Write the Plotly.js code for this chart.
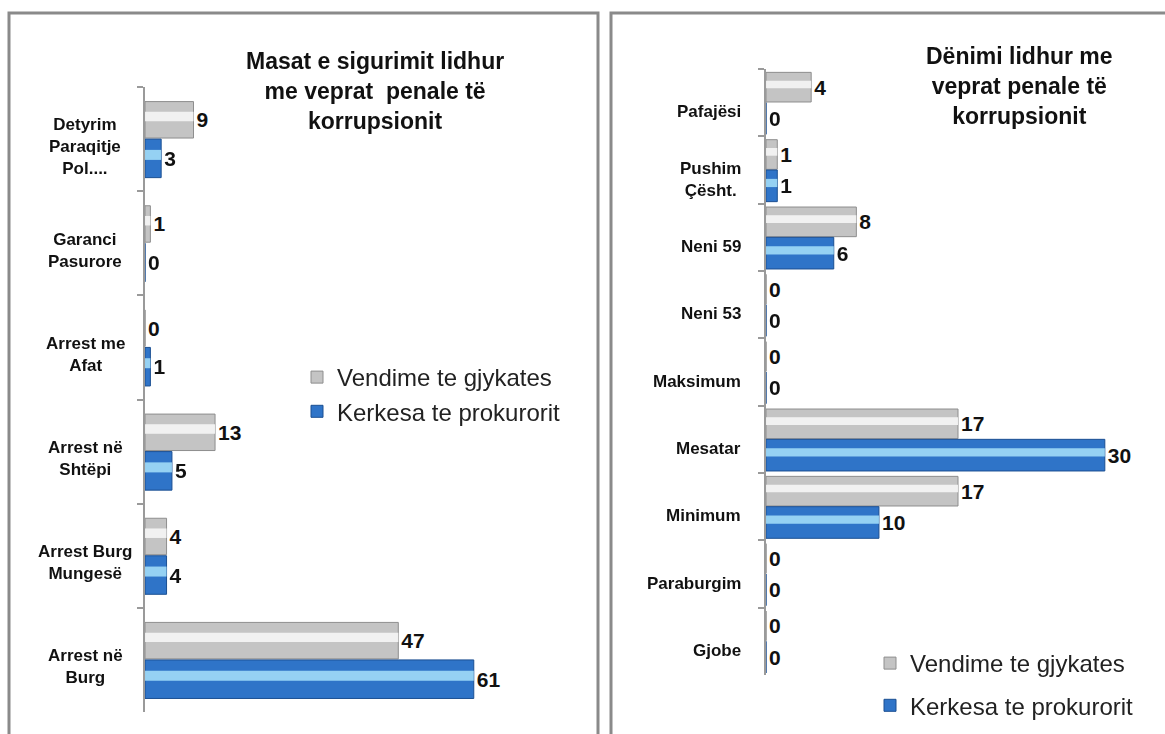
<!DOCTYPE html>
<html><head><meta charset="utf-8">
<script src="https://cdn.plot.ly/plotly-3.0.1.min.js"></script>
<style>html,body{margin:0;padding:0;background:#fff}#c{width:1165px;height:734px}</style>
</head><body><div id="c"></div>
<script>
// ---- data ----
const catsL = ['Detyrim<br>Paraqitje<br>Pol....','Garanci<br>Pasurore','Arrest me<br>Afat','Arrest në<br>Shtëpi','Arrest Burg<br>Mungesë','Arrest në<br>Burg'];
const courtL = [9,1,0,13,4,47];
const prosL  = [3,0,1,5,4,61];
const catsR = ['Pafajësi','Pushim<br>Çësht.','Neni 59','Neni 53','Maksimum','Mesatar','Minimum','Paraburgim','Gjobe'];
const courtR = [4,1,8,0,0,17,17,0,0];
const prosR  = [0,1,6,0,0,30,10,0,0];
const seriesNames = ['Vendime te gjykates','Kerkesa te prokurorit'];
const titleL = 'Masat e sigurimit lidhur<br>me veprat  penale të<br>korrupsionit';
const titleR = 'Dënimi lidhur me<br>veprat penale të<br>korrupsionit';

const W = 1165, H = 734;
const FONT = 'Liberation Sans, Arial, sans-serif';
const GRAY = '#c4c4c4', GRAY_EDGE = '#8e8e8e', GRAY_HL = '#f7f7f7';
const BLUE = '#2f74c8', BLUE_EDGE = '#1b4f92', BLUE_HL = '#a2dcf8';

function bars(cats, vals, xa, ya, base, edge, hl, offset, width, name, legend) {
  const main = {
    type:'bar', orientation:'h', y:cats, x:vals, xaxis:xa, yaxis:ya,
    name:name, legend:legend, showlegend:true, legendgroup:name+legend,
    offset:offset, width:width,
    marker:{color:base, line:{color:edge, width:1}},
    text:vals.map(String), textposition:'outside', cliponaxis:false,
    textfont:{family:FONT, size:21, weight:'bold', color:'#111'},
    hoverinfo:'x+y'
  };
  const shine = {
    type:'bar', orientation:'h', y:cats, x:vals, xaxis:xa, yaxis:ya,
    showlegend:false, hoverinfo:'skip',
    offset:offset+width*0.28, width:width*0.26,
    marker:{color:hl, line:{width:0}}, opacity:0.9
  };
  return [main, shine];
}

const data = [
  ...bars(catsL, courtL, 'x', 'y', GRAY, GRAY_EDGE, GRAY_HL, -0.36, 0.35, seriesNames[0], 'legend'),
  ...bars(catsL, prosL, 'x', 'y', BLUE, BLUE_EDGE, BLUE_HL, 0.0, 0.37, seriesNames[1], 'legend'),
  ...bars(catsR, courtR, 'x2', 'y2', GRAY, GRAY_EDGE, GRAY_HL, -0.45, 0.44, seriesNames[0], 'legend2'),
  ...bars(catsR, prosR, 'x2', 'y2', BLUE, BLUE_EDGE, BLUE_HL, 0.0, 0.47, seriesNames[1], 'legend2')
];

const px = v => v / W, py = v => 1 - v / H;
const yax = (dom, anchor) => ({
  domain:dom, anchor:anchor, autorange:'reversed', type:'category',
  showline:true, linecolor:'#9a9a9a', linewidth:2,
  ticks:'outside', tickson:'boundaries', ticklen:6, tickcolor:'#9a9a9a', tickwidth:2,
  showticklabels:false, showgrid:false, zeroline:false, fixedrange:true
});
const xax = (dom, rng, anchor) => ({
  domain:dom, range:rng, anchor:anchor, visible:false, showgrid:false, zeroline:false, fixedrange:true
});

const legendStyle = (x, y, gap) => ({
  x:x, y:y, xanchor:'left', yanchor:'top', bgcolor:'rgba(0,0,0,0)',
  font:{family:FONT, size:24, color:'#222'}, traceorder:'grouped', tracegroupgap:gap,
  itemclick:false, itemdoubleclick:false
});

const labelFont = {family:FONT, size:17, weight:'bold', color:'#111'};
const catAnnotations = [
  ...catsL.map((c, i) => ({text:c, xref:'paper', yref:'y', x:px(85), y:i, yshift:-7, xanchor:'center', yanchor:'middle',
    align:'center', showarrow:false, font:labelFont})),
  ...catsR.map((c, i) => ({text:c, xref:'paper', yref:'y2', x:px(743), y:i, yshift:-9, xanchor:'right', yanchor:'middle',
    align:'center', showarrow:false, font:labelFont}))
];

const layout = {
  width:W, height:H, margin:{l:0,r:0,t:0,b:0},
  paper_bgcolor:'#fff', plot_bgcolor:'rgba(0,0,0,0)',
  barmode:'overlay', showlegend:true,
  xaxis: xax([px(145), px(560)], [0, 77], 'y'),
  yaxis: yax([py(712), py(87)], 'x'),
  xaxis2: xax([px(766), px(1150)], [0, 34], 'y2'),
  yaxis2: yax([py(675), py(69)], 'x2'),
  legend: legendStyle(px(297), py(355), 0),
  legend2: legendStyle(px(870), py(641), 8),
  annotations:[
    ...catAnnotations,
    {text:titleL, xref:'paper', yref:'paper', x:px(375), y:py(91), xanchor:'center', yanchor:'middle',
     showarrow:false, align:'center', font:{family:FONT, size:23, weight:'bold', color:'#111'}},
    {text:titleR, xref:'paper', yref:'paper', x:px(1019), y:py(86), xanchor:'center', yanchor:'middle',
     showarrow:false, align:'center', font:{family:FONT, size:23, weight:'bold', color:'#111'}}
  ],
  shapes:[
    {type:'rect', xref:'paper', yref:'paper', x0:px(9), x1:px(598), y0:py(740), y1:py(13),
     line:{color:'#8a8a8a', width:3}},
    {type:'rect', xref:'paper', yref:'paper', x0:px(611), x1:px(1175), y0:py(740), y1:py(13),
     line:{color:'#8a8a8a', width:3}}
  ]
};

Plotly.newPlot('c', data, layout, {displayModeBar:false, staticPlot:true});
</script></body></html>
